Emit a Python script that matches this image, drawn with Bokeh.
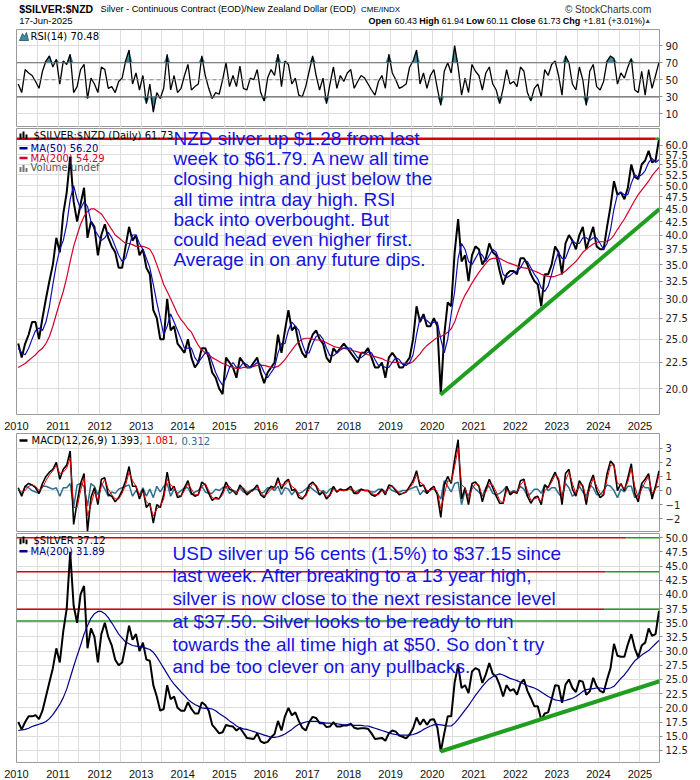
import numpy as np
import pandas as pd
from bokeh.plotting import figure
from bokeh.layouts import column
from bokeh.models import Range1d, LinearScale, FixedTicker, Label, Span, PrintfTickFormatter
from bokeh.embed import file_html
from bokeh.resources import INLINE

# ---------------- data (monthly readings, Jan 2010 .. Jun 2025) ----------------
months = pd.period_range("2010-01", "2025-06", freq="M")

nzd_close = [
    24.5, 23.0, 24.5, 25.5, 27.0, 27.0, 25.0, 27.5, 30.0, 32.5, 35.0, 39.5,
    37.0, 44.0, 48.5, 57.0, 46.5, 42.5, 46.0, 49.5, 39.5, 42.5, 41.5, 36.5,
    40.0, 42.0, 39.5, 38.0, 37.0, 34.5, 34.5, 38.0, 41.5, 39.0, 40.0, 36.5,
    37.5, 34.5, 33.5, 28.5, 27.5, 25.0, 25.0, 30.0, 26.0, 26.5, 24.5, 24.0,
    23.5, 25.0, 23.0, 22.0, 22.5, 24.0, 24.0, 23.0, 21.5, 21.0, 20.0, 19.5,
    23.0, 22.5, 22.0, 21.0, 23.0, 22.5, 22.0, 22.0, 22.5, 23.0, 21.5, 20.5,
    21.5, 22.0, 22.5, 25.5, 23.5, 26.0, 28.5, 26.0, 26.5, 24.5, 23.5, 23.0,
    24.5, 25.5, 26.0, 25.0, 24.5, 23.0, 22.5, 24.0, 23.5, 24.0, 24.5, 24.0,
    23.5, 23.0, 22.5, 23.5, 23.5, 24.0, 23.0, 22.0, 22.0, 22.5, 21.0, 23.0,
    23.5, 23.0, 22.0, 22.0, 22.5, 23.0, 25.0, 29.0, 27.0, 28.0, 26.5, 26.5,
    27.5, 26.5, 19.5, 25.5, 29.5, 29.0, 37.0, 43.0, 35.5, 36.5, 32.5, 36.5,
    38.0, 37.5, 35.0, 36.0, 38.5, 37.0, 36.5, 34.0, 32.0, 33.5, 34.0, 34.0,
    33.5, 36.0, 36.0, 35.0, 33.5, 32.5, 32.0, 29.0, 33.5, 33.5, 35.0, 38.0,
    37.0, 33.5, 38.5, 40.0, 39.0, 37.5, 40.0, 41.5, 37.5, 39.5, 41.5, 38.0,
    37.5, 37.5, 41.5, 45.5, 51.0, 48.0, 48.5, 47.0, 49.5, 55.0, 52.0, 51.5,
    55.0, 56.0, 58.5, 55.5, 56.0, 61.73,
]
nzd_ma50 = [
    24.0, 23.5, 23.3, 24.0, 25.0, 26.0, 26.3, 26.0, 27.0, 29.0, 32.0, 35.0,
    37.5, 39.0, 42.0, 47.0, 50.0, 47.0, 45.0, 46.5, 45.5, 42.5, 41.0, 40.0,
    39.0, 39.5, 40.5, 39.5, 38.0, 36.5, 35.5, 36.0, 38.0, 40.0, 40.0, 38.5,
    37.5, 36.0, 34.5, 32.0, 29.5, 27.5, 25.5, 26.5, 28.0, 27.0, 26.0, 25.0,
    24.0, 24.0, 24.0, 23.0, 22.5, 23.0, 23.5, 23.5, 22.5, 21.5, 20.8, 20.3,
    21.0, 22.0, 22.5, 22.0, 22.0, 22.5, 22.3, 22.0, 22.2, 22.5, 22.3, 21.5,
    21.0, 21.5, 22.0, 23.5, 24.5, 24.5, 26.0, 27.0, 26.5, 26.0, 24.5, 23.5,
    23.5, 24.5, 25.3, 25.5, 25.0, 24.0, 23.2, 23.2, 23.5, 23.8, 24.0, 24.0,
    24.0, 23.5, 23.0, 23.0, 23.3, 23.6, 23.5, 22.8, 22.2, 22.2, 22.0, 22.0,
    22.5, 23.0, 22.8, 22.3, 22.2, 22.5, 23.3, 25.5, 27.5, 27.5, 27.2, 26.8,
    27.0, 27.0, 25.0, 23.5, 25.0, 28.0, 31.0, 36.0, 38.5, 37.5, 35.5, 35.0,
    36.0, 37.0, 36.5, 35.5, 36.5, 37.5, 37.0, 35.5, 33.5, 33.0, 33.3, 33.8,
    34.0, 34.5, 35.5, 35.5, 34.5, 33.5, 32.8, 31.5, 31.0, 31.8, 33.5, 35.5,
    37.0, 36.0, 36.0, 37.5, 39.0, 38.5, 38.5, 39.5, 39.5, 39.0, 39.5, 39.5,
    38.5, 37.5, 38.5, 41.0, 45.0, 48.0, 48.5, 48.0, 48.0, 50.5, 52.5, 52.0,
    52.5, 53.5, 55.5, 56.5, 55.5, 56.20,
]
nzd_ma200 = [
    22.0, 22.2, 22.4, 22.7, 23.0, 23.3, 23.7, 24.0, 24.5, 25.3, 26.5, 28.0,
    29.5, 31.0, 33.0, 35.5, 38.0, 40.0, 42.0, 43.5, 44.5, 45.0, 45.0, 44.5,
    44.0, 43.0, 42.0, 41.0, 40.0, 39.5, 39.0, 38.5, 38.5, 38.3, 38.0, 38.0,
    38.0, 37.8, 37.5, 36.5, 35.0, 33.5, 32.0, 31.0, 30.0, 29.0, 28.0, 27.3,
    26.8, 26.2, 25.8, 25.0, 24.3, 23.8, 23.5, 23.3, 23.0, 22.8, 22.6, 22.4,
    22.3, 22.1, 22.0, 21.9, 21.9, 22.0, 22.0, 22.0, 22.1, 22.2, 22.2, 22.2,
    22.1, 22.0, 22.0, 22.1, 22.4, 22.8, 23.3, 23.8, 24.3, 24.7, 25.0, 25.1,
    25.1, 25.0, 24.9, 24.9, 24.8, 24.6, 24.4, 24.2, 24.1, 24.0, 24.0, 23.9,
    23.8, 23.7, 23.6, 23.5, 23.4, 23.3, 23.2, 23.1, 23.0, 22.9, 22.7, 22.6,
    22.5, 22.5, 22.5, 22.4, 22.4, 22.4, 22.6, 23.0, 23.4, 23.9, 24.3, 24.6,
    24.9, 25.2, 25.3, 25.5, 25.8, 26.2, 27.0, 28.3, 29.5, 30.5, 31.3, 32.2,
    33.0, 33.8, 34.5, 35.2, 35.8, 36.0, 36.0, 36.0, 35.7, 35.4, 35.2, 35.0,
    34.8, 34.6, 34.5, 34.4, 34.2, 34.0, 33.8, 33.5, 33.3, 33.2, 33.1, 33.2,
    33.4, 33.6, 34.0, 34.5, 35.0, 35.5, 36.2, 37.0, 37.5, 38.0, 38.4, 38.7,
    38.8, 38.8, 38.9, 39.2, 40.0, 41.0, 42.0, 43.0, 44.2, 45.5, 46.8, 48.0,
    49.0, 50.0, 51.0, 52.3, 53.3, 54.29,
]
usd_close = [
    17.5, 16.2, 17.5, 18.5, 18.5, 18.7, 18.0, 19.5, 22.0, 24.5, 27.0, 30.5,
    28.0, 33.5, 37.5, 47.5, 38.0, 35.0, 40.0, 41.5, 30.5, 34.0, 32.5, 28.0,
    33.0, 35.0, 32.5, 31.0, 28.5, 27.5, 28.0, 31.0, 34.5, 32.0, 33.0, 30.0,
    31.5, 28.5, 28.3, 24.0, 22.0, 19.5, 19.8, 24.0, 21.5, 22.0, 20.0, 19.5,
    19.5, 21.0, 19.8, 19.0, 19.0, 21.0, 20.5, 19.5, 17.0, 16.3, 15.5, 15.7,
    17.0, 16.8, 16.7, 16.0, 16.5, 15.6, 14.7, 14.6, 14.5, 15.5, 14.1, 13.8,
    14.0, 14.8, 15.4, 17.7, 16.0, 18.5, 20.0, 18.7, 19.2, 17.7, 16.5, 16.0,
    17.5, 18.4, 18.2, 17.3, 17.3, 16.6, 16.7, 17.5, 16.7, 16.7, 16.9, 16.9,
    17.2, 16.5, 16.3, 16.4, 16.4, 16.3, 15.5, 14.5, 14.6, 14.7, 14.2, 15.5,
    16.0, 15.8, 15.1, 14.9, 14.6, 15.3, 16.4, 18.3, 17.0, 18.0, 17.0, 17.9,
    18.0, 16.5, 12.3, 15.5, 18.5, 18.5, 24.5, 27.5, 23.5, 24.0, 22.6, 26.4,
    27.0, 26.7, 24.4, 25.9, 27.9, 26.0, 25.5, 24.0, 22.0, 24.0, 23.0, 23.3,
    22.3, 24.3, 25.0, 23.0, 21.7, 20.3, 20.3, 17.9, 19.0, 19.2, 21.5, 24.0,
    23.9, 20.9, 24.1, 25.0, 23.5, 22.8, 24.8, 24.6, 22.3, 22.9, 25.3, 23.8,
    23.0, 22.7, 25.0, 27.0, 31.3, 29.2, 29.0, 29.0, 31.2, 33.0, 30.5, 28.9,
    31.0, 31.5, 34.0, 32.7, 33.0, 37.12,
]
usd_ma200 = [
    16.0, 16.1, 16.2, 16.4, 16.7, 16.9, 17.1, 17.3, 17.6, 18.1, 18.8, 19.7,
    20.6, 21.8, 23.3, 25.3, 27.3, 29.2, 31.0, 33.0, 34.5, 35.8, 36.6, 37.0,
    37.0, 36.6, 35.9, 35.0, 34.0, 33.0, 32.3, 31.6, 31.3, 31.0, 30.9, 30.8,
    30.7, 30.5, 30.3, 29.8, 29.0, 28.0, 27.0, 26.0, 25.0, 24.2, 23.5, 22.8,
    22.2, 21.5, 21.0, 20.6, 20.3, 20.0, 19.9, 19.9, 19.8, 19.5, 19.0, 18.6,
    18.2, 17.7, 17.3, 16.8, 16.5, 16.3, 16.2, 16.0, 15.8, 15.6, 15.4, 15.2,
    15.0, 14.8, 14.8, 14.9, 15.1, 15.4, 15.8, 16.2, 16.7, 17.1, 17.3, 17.5,
    17.6, 17.6, 17.6, 17.5, 17.4, 17.3, 17.3, 17.2, 17.2, 17.1, 17.0, 17.0,
    17.0, 16.9, 16.9, 16.9, 16.8, 16.8, 16.6, 16.4, 16.2, 16.0, 15.8, 15.6,
    15.4, 15.3, 15.2, 15.2, 15.2, 15.2, 15.3, 15.5, 15.8, 16.2, 16.5, 16.8,
    17.0, 17.1, 17.0, 16.9, 16.8, 16.8, 17.3, 18.0, 18.8, 19.6, 20.4, 21.3,
    22.2, 23.0, 23.8, 24.5, 25.1, 25.5, 25.8, 26.0, 25.8, 25.5, 25.2, 25.0,
    24.8, 24.5, 24.2, 23.9, 23.7, 23.5, 23.2, 22.8, 22.4, 22.0, 21.7, 21.4,
    21.3, 21.2, 21.3, 21.5, 21.7, 22.0, 22.4, 22.9, 23.2, 23.3, 23.4, 23.5,
    23.5, 23.4, 23.4, 23.5, 23.8, 24.5, 25.2, 25.8, 26.6, 27.5, 28.3, 28.8,
    29.3, 29.7, 30.1, 30.7, 31.3, 31.89,
]
rsi14 = [
    45, 35, 62, 58, 55, 48, 40, 60, 72, 78, 65, 74,
    45, 72, 68, 80, 35, 42, 62, 68, 28, 52, 45, 35,
    65, 62, 40, 42, 35, 48, 52, 72, 85, 45, 58, 38,
    55, 22, 45, 12, 35, 28, 40, 80, 38, 55, 35, 40,
    55, 68, 38, 42, 45, 78, 55, 40, 28, 35, 33, 50,
    70, 42, 55, 42, 66, 40, 38, 52, 50, 62, 35, 25,
    52, 62, 55, 80, 42, 72, 68, 45, 52, 32, 30, 42,
    60, 78, 55, 38, 52, 22, 45, 65, 40, 55, 48, 58,
    62, 40, 48, 55, 52, 45, 38, 32, 48, 55, 40, 80,
    58, 50, 40, 42, 45, 65, 72, 85, 45, 58, 40, 55,
    62, 40, 20, 60, 70, 58, 90, 65, 32, 52, 35, 68,
    60, 55, 38, 58, 65, 45, 38, 22, 40, 62, 45, 48,
    42, 65, 60, 35, 25, 40, 45, 30, 62, 55, 68, 72,
    55, 32, 78, 70, 45, 38, 65, 50, 20, 60, 68, 42,
    38, 48, 72, 78, 75, 45, 58, 52, 65, 75, 38, 35,
    60, 32, 62, 40, 55, 70.48,
]
macd_line = [
    0.2, -0.4, 0.3, 0.5, 0.4, 0.2, -0.2, 0.5, 1.0, 1.3, 1.5, 2.0,
    0.8, 1.5, 1.8, 2.8, -2.4, -0.8, 0.5, 1.2, -2.9, -0.5, 0.2, -1.0,
    0.8, 0.9, -0.3, -0.4, -0.8, -0.5, 0.0, 0.7, 1.7, 0.3, 0.3, -0.6,
    0.1, -1.2, -0.9, -2.3, -1.0, -1.2, -0.3, 1.3, 0.0, 0.3, -0.5, -0.4,
    0.2, 0.7, -0.2, -0.4, -0.3, 0.6, 0.4, -0.2, -0.7, -0.5, -0.6, -0.1,
    0.6, 0.1, 0.0, -0.3, 0.4, 0.1, -0.3, -0.1, 0.1, 0.4, -0.3, -0.5,
    0.0, 0.3, 0.2, 0.9, 0.1, 0.6, 0.8, 0.0, 0.1, -0.5, -0.6, -0.3,
    0.4, 0.6, 0.3, -0.3, -0.1, -0.6, -0.3, 0.3, -0.1, 0.1, 0.0, 0.1,
    0.3, -0.2, -0.2, 0.1, 0.0, 0.0, -0.3, -0.4, -0.2, 0.1, -0.3, 0.4,
    0.3, 0.0, -0.3, -0.2, -0.1, 0.3, 0.7, 1.4, 0.3, 0.4, -0.2, 0.1,
    0.3, -0.3, -1.9, 0.4, 1.0, 0.5, 2.2, 3.6, -0.6, 0.2, -1.0, 0.5,
    0.6, 0.3, -0.8, 0.1, 0.8, 0.2, -0.4, -0.9, -0.9, 0.3, -0.3, -0.1,
    -0.2, 0.7, 0.8, -0.4, -0.9, -0.5, -0.4, -1.0, 0.4, 0.2, 0.8, 1.3,
    0.7, -1.0, 1.2, 1.5, 0.1, -0.4, 0.7, 0.3, -1.0, 0.5, 1.1, 0.0,
    -0.5, -0.3, 1.2, 2.1, 1.8, 0.0, 0.5, 0.0, 0.9, 1.9, -0.2, -0.8,
    0.5, 0.8, 1.2, -0.6, 0.3, 1.393,
]
macd_signal = [
    0.1, -0.1, 0.0, 0.3, 0.4, 0.3, 0.0, 0.2, 0.7, 1.1, 1.4, 1.8,
    1.2, 1.3, 1.6, 2.3, -1.2, -1.2, 0.0, 0.9, -1.8, -1.0, -0.1, -0.7,
    0.3, 0.8, 0.1, -0.3, -0.6, -0.6, -0.2, 0.4, 1.3, 0.7, 0.3, -0.3,
    -0.1, -0.8, -1.0, -1.8, -1.3, -1.1, -0.6, 0.8, 0.4, 0.2, -0.3, -0.4,
    0.0, 0.5, 0.1, -0.3, -0.3, 0.3, 0.5, 0.0, -0.5, -0.6, -0.6, -0.3,
    0.3, 0.3, 0.0, -0.2, 0.2, 0.2, -0.1, -0.1, 0.0, 0.3, -0.1, -0.4,
    -0.2, 0.1, 0.2, 0.6, 0.4, 0.4, 0.7, 0.3, 0.1, -0.3, -0.5, -0.4,
    0.1, 0.5, 0.4, 0.0, -0.1, -0.4, -0.4, 0.1, 0.0, 0.0, 0.0, 0.0,
    0.2, 0.0, -0.2, 0.0, 0.0, 0.0, -0.2, -0.3, -0.3, 0.0, -0.2, 0.2,
    0.3, 0.1, -0.2, -0.2, -0.1, 0.2, 0.5, 1.1, 0.6, 0.4, 0.0, 0.0,
    0.2, -0.1, -1.3, -0.3, 0.7, 0.6, 1.7, 3.0, 0.4, 0.2, -0.6, 0.1,
    0.5, 0.4, -0.4, -0.1, 0.5, 0.4, -0.1, -0.7, -0.9, 0.0, -0.1, -0.1,
    -0.1, 0.4, 0.7, 0.0, -0.7, -0.6, -0.5, -0.8, 0.0, 0.2, 0.6, 1.1,
    0.9, -0.5, 0.7, 1.3, 0.5, -0.2, 0.4, 0.4, -0.6, 0.1, 0.9, 0.3,
    -0.2, -0.3, 0.8, 1.8, 1.8, 0.5, 0.4, 0.1, 0.6, 1.6, 0.3, -0.5,
    0.1, 0.6, 1.0, -0.2, 0.1, 1.081,
]
macd_hist = [
    0.1, -0.3, 0.3, 0.2, 0.0, -0.1, -0.2, 0.3, 0.3, 0.2, 0.1, 0.2,
    -0.4, 0.2, 0.2, 0.5, -1.2, 0.4, 0.5, 0.3, -1.1, 0.5, 0.3, -0.3,
    0.5, 0.1, -0.4, -0.1, -0.2, 0.1, 0.2, 0.3, 0.4, -0.4, 0.0, -0.3,
    0.2, -0.4, 0.1, -0.5, 0.3, -0.1, 0.3, 0.5, -0.4, 0.1, -0.2, 0.0,
    0.2, 0.2, -0.3, -0.1, 0.0, 0.3, -0.1, -0.2, -0.2, 0.1, 0.0, 0.2,
    0.3, -0.2, 0.0, -0.1, 0.2, -0.1, -0.2, 0.0, 0.1, 0.1, -0.2, -0.1,
    0.2, 0.2, 0.0, 0.3, -0.3, 0.2, 0.1, -0.3, 0.0, -0.2, -0.1, 0.1,
    0.3, 0.1, -0.1, -0.3, 0.0, -0.2, 0.1, 0.2, -0.1, 0.1, 0.0, 0.1,
    0.1, -0.2, 0.0, 0.1, 0.0, 0.0, -0.1, -0.1, 0.1, 0.1, -0.1, 0.2,
    0.0, -0.1, -0.1, 0.0, 0.0, 0.1, 0.2, 0.3, -0.3, 0.0, -0.2, 0.1,
    0.1, -0.2, -0.6, 0.7, 0.3, -0.1, 0.5, 0.6, -1.0, 0.0, -0.4, 0.4,
    0.1, -0.1, -0.4, 0.2, 0.3, -0.2, -0.3, -0.2, 0.0, 0.3, -0.2, 0.0,
    -0.1, 0.3, 0.1, -0.4, -0.2, 0.1, 0.1, -0.2, 0.4, 0.0, 0.2, 0.2,
    -0.2, -0.5, 0.5, 0.2, -0.4, -0.2, 0.3, -0.1, -0.4, 0.4, 0.2, -0.3,
    -0.3, 0.0, 0.4, 0.3, 0.0, -0.5, 0.1, -0.1, 0.3, 0.3, -0.5, -0.3,
    0.4, 0.2, 0.2, -0.4, 0.2, 0.312,
]

year_labels = [str(y) for y in range(2010, 2026)]
nzd_ticks = [20.0, 22.5, 25.0, 27.5, 30.0, 32.5, 35.0, 37.5, 40.0, 42.5, 45.0,
             47.5, 50.0, 52.5, 55.0, 57.5, 60.0]
usd_ticks = [12.5, 15.0, 17.5, 20.0, 22.5, 25.0, 27.5, 30.0, 32.5, 35.0, 37.5,
             40.0, 42.5, 45.0, 47.5, 50.0]
rsi_ticks = [10, 30, 50, 70, 90]
macd_ticks = [-2, -1, 0, 1, 2, 3]

# horizontal levels and trend lines drawn on the chart
nzd_level = [61.8]
usd_levels = [50.0, 44.0, 37.4, 35.3]
usd_level_switch = [2024.67, 2024.17, 2024.14, 2010.0]
nzd_trend_x, nzd_trend_y = [2020.2, 2025.47], [19.45, 45.0]
usd_trend_x, usd_trend_y = [2020.2, 2025.47], [12.3, 24.7]

note_nzd = ["NZD silver up $1.28 from last",
            "week to $61.79. A new all time",
            "closing high and just below the",
            "all time intra day high. RSI",
            "back into overbought. But",
            "could head even higher first.",
            "Average in on any future dips."]
note_usd = ["USD silver up 56 cents (1.5%) to $37.15 since",
            "last week. After breaking to a 13 year high,",
            "silver is now close to the next resistance level",
            "at $37.50. Silver looks to be ready to run",
            "towards the all time high at $50. So don`t try",
            "and be too clever on any pullbacks."]

for arr in (nzd_close, nzd_ma50, nzd_ma200, usd_close, usd_ma200, rsi14,
            macd_line, macd_signal, macd_hist):
    assert len(arr) == len(months), len(arr)

t = np.array([p.year + (p.month - 0.5) / 12.0 for p in months])

# ---------------- styling helpers ----------------
XEND = 2025.47
XR = Range1d(2010.0, XEND)
FW = 643
GRID = "#dddddd"
SANS = "Liberation Sans"
SMALL = "DejaVu Sans"
BLUE_NOTE = "#1414e0"
GREEN = "#1f9e1f"

# approximate Arial advance widths (em) used to chain header text pieces
_AW = {" ": .278, ".": .278, ",": .278, "(": .333, ")": .333, "-": .333, "/": .278,
       ":": .278, "$": .556, "+": .584, "%": .889, "\u00a9": .737}
for _c in "0123456789":
    _AW[_c] = .556
for _c, _w in zip("abcdefghijklmnopqrstuvwxyz",
                  [.556, .556, .5, .556, .556, .278, .556, .556, .222, .222, .5, .222, .833,
                   .556, .556, .556, .556, .333, .5, .278, .556, .5, .722, .5, .5, .5]):
    _AW[_c] = _w
for _c, _w in zip("ABCDEFGHIJKLMNOPQRSTUVWXYZ",
                  [.667, .667, .722, .722, .667, .611, .778, .722, .278, .5, .667, .556, .833,
                   .722, .778, .667, .778, .722, .667, .611, .722, .667, .944, .667, .667, .611]):
    _AW[_c] = _w


def tw(s, size, bold=False):
    return sum(_AW.get(c, .556) for c in s) * size * (1.15 if bold else 1.07)


def panel(h, top, bottom, yr, log=False, xaxis=False, yticks=None, fmt=None):
    p = figure(width=700, height=h, x_range=XR, y_range=yr,
               y_axis_type="log" if log else "linear",
               y_axis_location="right",
               x_axis_location="below" if xaxis else None,
               output_backend="svg", toolbar_location=None,
               min_border_left=16, min_border_right=41,
               min_border_top=top, min_border_bottom=bottom)
    fh = h - top - bottom
    p.extra_x_ranges = {"px": Range1d(0, FW)}
    p.extra_y_ranges = {"py": Range1d(fh, 0)}
    p.extra_x_scales = {"px": LinearScale()}
    p.extra_y_scales = {"py": LinearScale()}
    p.outline_line_color = "#9a9a9a"
    p.background_fill_color = "white"
    p.border_fill_color = "white"
    halfyears = [2010 + 0.5 * i for i in range(32)]
    p.xgrid.ticker = FixedTicker(ticks=halfyears)
    p.xgrid.grid_line_color = GRID
    p.ygrid.grid_line_color = GRID
    ya = p.yaxis[0]
    ya.ticker = FixedTicker(ticks=yticks)
    if fmt:
        ya.formatter = PrintfTickFormatter(format=fmt)
    ya.axis_line_color = None
    ya.major_tick_in = 0
    ya.major_tick_out = 3
    ya.major_tick_line_color = "#888888"
    ya.minor_tick_line_color = None
    ya.major_label_standoff = 3
    ya.major_label_text_font = SMALL
    ya.major_label_text_font_size = "10px"
    ya.major_label_text_color = "#222222"
    if xaxis:
        xa = p.xaxis[0]
        xa.ticker = FixedTicker(ticks=[2010 + i for i in range(16)])
        xa.major_label_overrides = {2010 + i: s for i, s in enumerate(year_labels)}
        xa.axis_line_color = None
        xa.major_tick_line_color = None
        xa.minor_tick_line_color = None
        xa.major_label_standoff = 1
        xa.major_label_text_font = SANS
        xa.major_label_text_font_size = "11px"
        xa.major_label_text_color = "#111111"
    return p


def txt(p, x, y, s, color="black", size="10px", font=SMALL, bold=False, align="left"):
    p.add_layout(Label(x=x, y=y, x_range_name="px", y_range_name="py", text=s,
                       text_color=color, text_font_size=size, text_font=font,
                       text_font_style="bold" if bold else "normal",
                       text_baseline="middle", text_align=align))


def tag(p, y, s, color, bold=False):
    p.add_layout(Label(x=FW + 6, y=y, x_range_name="px", text=s,
                       text_color=color, text_font_size="10.5px", text_font=SMALL,
                       text_font_style="bold" if bold else "normal",
                       text_baseline="middle", border_line_color=color,
                       border_line_width=1, background_fill_color="white",
                       padding=1))


def icon_bars(p, x0, yc):
    p.segment(x0=[x0, x0 + 3, x0 + 6], y0=[yc + 4, yc + 3, yc + 4],
              x1=[x0, x0 + 3, x0 + 6], y1=[yc - 2, yc - 4, yc - 1],
              x_range_name="px", y_range_name="py", line_color="black", line_width=2)


# ---------------- header ----------------
hd = figure(width=700, height=28, x_range=Range1d(0, 700), y_range=Range1d(28, 0),
            x_axis_location=None, y_axis_location=None, min_border=0,
            output_backend="svg", toolbar_location=None)
hd.outline_line_color = None
hd.grid.visible = False


def htxt(x, y, s, size=10, bold=False, color="black", align="left"):
    hd.add_layout(Label(x=x, y=y, text=s, text_color=color, text_font_size="%gpx" % size,
                        text_font=SANS, text_font_style="bold" if bold else "normal",
                        text_baseline="middle", text_align=align))


title = "$SILVER:$NZD"
htxt(3, 8, title, size=10.5, bold=True)
sub = "Silver - Continuous Contract (EOD)/New Zealand Dollar (EOD)"
xs = 3 + tw(title, 10.5, True) + 4
htxt(xs, 8.5, sub, size=9.2)
htxt(xs + tw(sub, 9.2) + 10, 8.5, "CME/INDX", size=8)
htxt(691, 8.5, "\u00a9 StockCharts.com", size=10, color="#333333", align="right")
htxt(3, 20, "17-Jun-2025", size=9.5)

pieces = [("Open", True), ("60.43", False), ("High", True), ("61.94", False),
          ("Low", True), ("60.11", False), ("Close", True), ("61.73", False),
          ("Chg", True), ("+1.81 (+3.01%)", False)]
HS = 9
gap = 0.32 * HS
total = sum(tw(s, HS, b) for s, b in pieces) + gap * (len(pieces) - 1)
xcur = 683 - total
for s, b in pieces:
    htxt(xcur, 20, s, size=HS, bold=b)
    xcur += tw(s, HS, b) + gap
htxt(691, 20, "\u25b2", size=7, color="#444444", align="right")

# ---------------- RSI panel ----------------
rsi = panel(99, 1, 0, Range1d(-6, 109), yticks=rsi_ticks)
rsi_arr = np.array(rsi14, dtype=float)
rsi.varea(x=t, y1=70, y2=np.maximum(rsi_arr, 70), fill_color="#3c8fa3")
rsi.varea(x=t, y1=np.minimum(rsi_arr, 30), y2=30, fill_color="#3c8fa3")
rsi.add_layout(Span(location=70, dimension="width", line_color="#666666", line_width=1.2))
rsi.add_layout(Span(location=30, dimension="width", line_color="#666666", line_width=1.2))
rsi.add_layout(Span(location=50, dimension="width", line_color="#888888", line_width=1,
                    line_dash="4 3"))
rsi.line(t, rsi14, line_color="black", line_width=1.3)
rsi.patch([3, 6, 8, 10, 12], [11, 4, 7, 3, 11], x_range_name="px", y_range_name="py",
          fill_color="#3c8fa3", line_color="#1d4f5c", line_width=0.8)
txt(rsi, 14, 7, "RSI(14) 70.48")
tag(rsi, rsi14[-1], "70.48", "black")

# ---------------- main NZD panel ----------------
main = panel(305, 1, 14, Range1d(17.79, 64.7), log=True, xaxis=True,
             yticks=nzd_ticks, fmt="%.1f")
main.line(t, nzd_close, line_color="black", line_width=2)
main.line(t, nzd_ma200, line_color="#d4002a", line_width=1.2)
main.line(t, nzd_ma50, line_color="#1010b0", line_width=1.2)
main.segment(x0=[2010.0], y0=nzd_level, x1=[2025.38], y1=nzd_level,
             line_color="#e00000", line_width=2.5)
main.segment(x0=[2025.38], y0=nzd_level, x1=[XEND], y1=nzd_level,
             line_color=GREEN, line_width=2.5)
main.line(nzd_trend_x, nzd_trend_y, line_color=GREEN, line_width=4)
icon_bars(main, 4, 7)
txt(main, 17, 7, "$SILVER:$NZD (Daily) 61.73")
main.segment(x0=[3], y0=[20], x1=[11], y1=[20], x_range_name="px", y_range_name="py",
             line_color="#00008b", line_width=2.5)
txt(main, 14, 20, "MA(50) 56.20", color="#00008b")
main.segment(x0=[3], y0=[30], x1=[11], y1=[30], x_range_name="px", y_range_name="py",
             line_color="#d4002a", line_width=2.5)
txt(main, 14, 30, "MA(200) 54.29", color="#d4002a")
main.vbar(x=[4, 7, 10], bottom=[44, 44, 44], top=[39, 37, 40], width=2,
          x_range_name="px", y_range_name="py", fill_color="#777777", line_color=None)
txt(main, 14, 40, "Volume undef", color="#555555")
for i, s in enumerate(note_nzd):
    txt(main, 157, 10 + 20.5 * i, s, color=BLUE_NOTE, size="19px", font=SANS)
tag(main, nzd_close[-1], "61.73", "black", bold=True)
tag(main, nzd_ma50[-1], "56.20", "#1010b0")
tag(main, nzd_ma200[-1], "54.29", "#d4002a")

# ---------------- MACD panel ----------------
macd = panel(100, 1, 1, Range1d(-2.9, 4.04), yticks=macd_ticks)
macd.line(t, macd_hist, line_color="#2e6d8e", line_width=1.5)
macd.line(t, macd_line, line_color="black", line_width=1.6)
macd.line(t, macd_signal, line_color="#e00000", line_width=1)
macd.segment(x0=[3], y0=[7], x1=[11], y1=[7], x_range_name="px", y_range_name="py",
             line_color="black", line_width=2.5)
txt(macd, 15, 7, "MACD(12,26,9) 1.393")
txt(macd, 123, 7, ", 1.081,", color="#e00000")
txt(macd, 165, 7, "0.312", color="#2e6d8e")
tag(macd, macd_line[-1], "1.393", "black")
tag(macd, macd_signal[-1], "1.081", "#e00000")
tag(macd, macd_hist[-1], "0.312", "#2e6d8e")

# ---------------- bottom USD panel ----------------
bot = panel(248, 1, 15, Range1d(10.36, 50.75), xaxis=True, yticks=usd_ticks, fmt="%.1f")
for lv, sw in zip(usd_levels, usd_level_switch):
    if sw > 2010.0:
        bot.segment(x0=[2010.0], y0=[lv], x1=[sw], y1=[lv], line_color="#e00000",
                    line_width=1.5)
    bot.segment(x0=[sw], y0=[lv], x1=[XEND], y1=[lv], line_color=GREEN, line_width=1.5)
bot.line(t, usd_close, line_color="black", line_width=2)
bot.line(t, usd_ma200, line_color="#00008b", line_width=1.2)
bot.line(usd_trend_x, usd_trend_y, line_color=GREEN, line_width=4)
icon_bars(bot, 4, 7)
txt(bot, 17, 7, "$SILVER 37.12")
bot.segment(x0=[3], y0=[18], x1=[11], y1=[18], x_range_name="px", y_range_name="py",
            line_color="#00008b", line_width=2.5)
txt(bot, 14, 18, "MA(200) 31.89", color="#00008b")
for i, s in enumerate(note_usd):
    txt(bot, 156, 20 + 23 * i, s, color=BLUE_NOTE, size="19px", font=SANS)
tag(bot, usd_close[-1], "37.12", "black", bold=True)
tag(bot, usd_ma200[-1], "31.89", "#00008b")

layout = column(hd, rsi, main, macd, bot, spacing=0)
open("out.html", "w").write(file_html(layout, INLINE))
